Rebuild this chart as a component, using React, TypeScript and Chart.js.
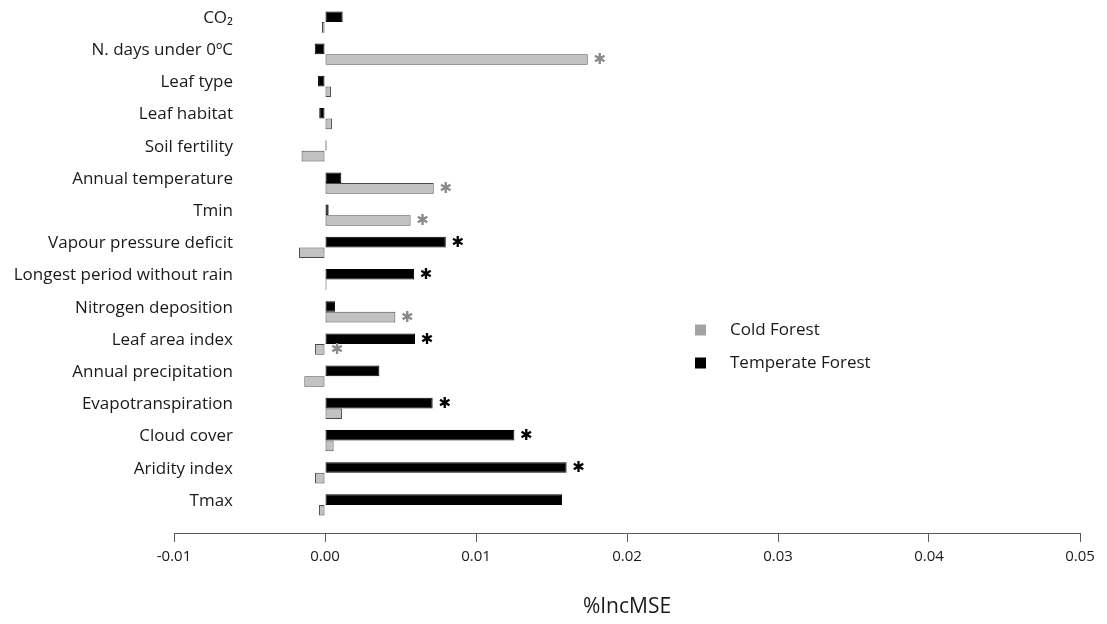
import { useEffect, useRef } from "react";
import { Chart, registerables } from "chart.js";

Chart.register(...registerables);

const categories = [
  "CO₂",
  "N. days under 0ºC",
  "Leaf type",
  "Leaf habitat",
  "Soil fertility",
  "Annual temperature",
  "Tmin",
  "Vapour pressure deficit",
  "Longest period without rain",
  "Nitrogen deposition",
  "Leaf area index",
  "Annual precipitation",
  "Evapotranspiration",
  "Cloud cover",
  "Aridity index",
  "Tmax",
];

const temperateForest = [
  0.00117, -0.00068, -0.00046, -0.00038, 0.0001, 0.00108, 0.00024, 0.008,
  0.0059, 0.00066, 0.00596, 0.0036, 0.00713, 0.01254, 0.016, 0.0157,
];

const coldForest = [
  -0.0002, 0.0174, 0.0004, 0.00046, -0.00155, 0.0072, 0.00567, -0.00172,
  0.0001, 0.00466, -0.00066, -0.00137, 0.00113, 0.00057, -0.00066, -0.0004,
];

const temperateSignificant = [
  false, false, false, false, false, false, false, true,
  true, false, true, false, true, true, true, false,
];

const coldSignificant = [
  false, true, false, false, false, true, true, false,
  false, true, true, false, false, false, false, false,
];

const xTickValues = [-0.01, 0, 0.01, 0.02, 0.03, 0.04, 0.05];

const FONT = "'Open Sans', 'Noto Sans', sans-serif";
const TEXT = "#1a1a1a";
const LABEL_SIZE = 17;

const starPlugin = {
  id: "stars",
  afterDatasetsDraw(chart: any) {
    const ctx = chart.ctx;
    const zero = chart.scales.x.getPixelForValue(0);
    chart.data.datasets.forEach((ds: any, di: number) => {
      const meta = chart.getDatasetMeta(di);
      meta.data.forEach((bar: any, i: number) => {
        if (!ds.significant[i]) return;
        const { x, y } = bar.getProps(["x", "y"], true);
        const end = Math.max(x, zero);
        ctx.save();
        ctx.fillStyle = ds.starColor;
        ctx.font = "bold 15px 'DejaVu Sans', sans-serif";
        ctx.textAlign = "center";
        ctx.textBaseline = "middle";
        ctx.fillText("✱", end + 12, y + 1);
        ctx.restore();
      });
    });
  },
};

const legendPlugin = {
  id: "sideLegend",
  afterDraw(chart: any) {
    const ctx = chart.ctx;
    const area = chart.chartArea;
    const left = area.left + 521;
    const top = area.top + 326;
    const items = [...chart.data.datasets].reverse();
    items.forEach((ds: any, k: number) => {
      const cy = top + k * 33;
      ctx.save();
      ctx.fillStyle = ds.legendColor;
      ctx.fillRect(left, cy - 5.5, 11, 11);
      ctx.fillStyle = TEXT;
      ctx.font = `17px ${FONT}`;
      ctx.textAlign = "left";
      ctx.textBaseline = "middle";
      ctx.fillText(ds.label, left + 35, cy);
      ctx.restore();
    });
  },
};

export default function App() {
  const canvasRef = useRef<HTMLCanvasElement | null>(null);

  useEffect(() => {
    document.body.style.margin = "0";
    const canvas = canvasRef.current;
    if (!canvas) return;

    const m = document.createElement("canvas").getContext("2d")!;
    m.font = `${LABEL_SIZE}px ${FONT}`;
    const widest = Math.max(...categories.map((c) => m.measureText(c).width));
    const yAxisWidth = 174;
    const labelRight = 233;

    const chart = new Chart(canvas, {
      type: "bar",
      data: {
        datasets: [
          {
            label: "Temperate Forest",
            data: temperateForest.map((v, i) => ({ x: v, y: i })),
            backgroundColor: "#000000",
            borderColor: "#000000",
            borderWidth: 1,
            borderSkipped: false,
            significant: temperateSignificant,
            starColor: "#000000",
            legendColor: "#000000",
          } as any,
          {
            label: "Cold Forest",
            data: coldForest.map((v, i) => ({ x: v, y: i })),
            backgroundColor: "#c2c2c2",
            borderColor: "#4a4a4a",
            borderWidth: 1,
            borderSkipped: false,
            significant: coldSignificant,
            starColor: "#8a8a8a",
            legendColor: "#a3a3a3",
          } as any,
        ],
      },
      options: {
        indexAxis: "y",
        animation: false,
        responsive: false,
        devicePixelRatio: 1,
        barPercentage: 1,
        categoryPercentage: 0.66,
        layout: { padding: { top: 4, right: 27, bottom: 0, left: 0 } },
        plugins: {
          legend: { display: false },
          tooltip: { enabled: false },
        },
        scales: {
          x: {
            type: "linear",
            min: -0.01,
            max: 0.05,
            afterBuildTicks: (s: any) => {
              s.ticks = xTickValues.map((v) => ({ value: v }));
            },
            afterFit: (s: any) => {
              s.height = 91;
            },
            grid: {
              drawOnChartArea: false,
              drawTicks: true,
              tickLength: 9,
              color: "#5a5a5a",
            },
            border: { display: true, color: "#5a5a5a", width: 1 },
            ticks: {
              padding: 6,
              color: TEXT,
              font: { family: FONT, size: 15 },
              callback: (v: any) => Number(v).toFixed(2),
            },
            title: {
              display: true,
              text: "%IncMSE",
              color: TEXT,
              font: { family: FONT, size: 21 },
              padding: { top: 0, bottom: 4 },
            },
          },
          y: {
            type: "linear",
            reverse: true,
            min: -0.56,
            max: 15.87,
            offset: false,
            afterBuildTicks: (s: any) => {
              s.ticks = categories.map((_, i) => ({ value: i }));
            },
            afterFit: (s: any) => {
              s.width = yAxisWidth;
            },
            grid: { display: false, drawTicks: false, offset: false },
            border: { display: false },
            ticks: {
              autoSkip: false,
              mirror: true,
              crossAlign: "far",
              padding: labelRight - yAxisWidth - widest,
              labelOffset: -4,
              color: TEXT,
              font: { family: FONT, size: LABEL_SIZE },
              callback: (v: any) => categories[v],
            },
          },
        },
      } as any,
      plugins: [starPlugin, legendPlugin],
    });
    return () => chart.destroy();
  }, []);

  return (
    <div style={{ width: 1107, height: 624, position: "relative" }}>
      <canvas ref={canvasRef} width={1107} height={624} />
    </div>
  );
}
